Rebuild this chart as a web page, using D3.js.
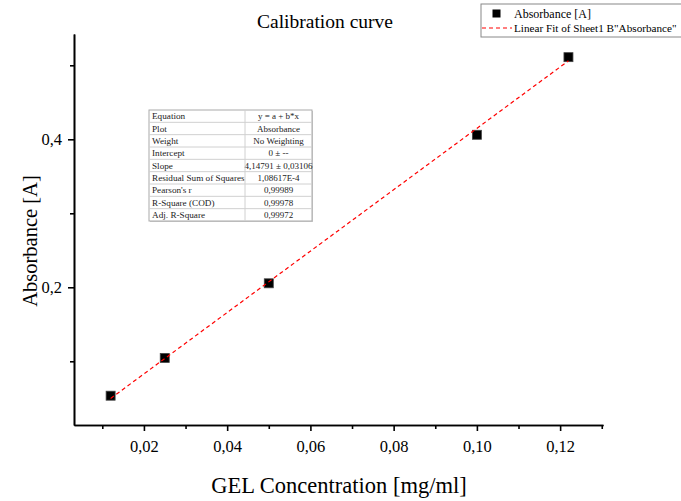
<!DOCTYPE html>
<html>
<head>
<meta charset="utf-8">
<script src="https://cdn.jsdelivr.net/npm/d3@7"></script>
<style>
  html, body { margin: 0; padding: 0; background: #fff; }
  svg { display: block; }
  text { font-family: "Liberation Serif", "DejaVu Serif", serif; }
</style>
</head>
<body>
<svg id="chart" width="681" height="501"></svg>
<script>
// ---- data ----
const concentration = [0.012, 0.025, 0.05, 0.10, 0.122];
const absorbance = [0.0535, 0.1045, 0.2054, 0.4061, 0.511];
const fitSlope = 4.14791;
const fitIntercept = 0;
const fitRange = [0.012, 0.122];
const xMajorTicks = [0.02, 0.04, 0.06, 0.08, 0.10, 0.12];
const xMinorTicks = [0.01, 0.03, 0.05, 0.07, 0.09, 0.11, 0.13];
const yMajorTicks = [0.2, 0.4];
const yMinorTicks = [0.1, 0.3, 0.5];
const tableLabels = ["Equation", "Plot", "Weight", "Intercept", "Slope",
  "Residual Sum of Squares", "Pearson's r", "R-Square (COD)", "Adj. R-Square"];
const tableValues = ["y = a + b*x", "Absorbance", "No Weighting", "0 \u00b1 --",
  "4,14791 \u00b1 0,03106", "1,08617E-4", "0,99989", "0,99978", "0,99972"];
const legendLabels = ["Absorbance [A]", "Linear Fit of Sheet1 B\"Absorbance\""];

const svg = d3.select("#chart");
const x = d3.scaleLinear().domain([0.0032, 0.1303]).range([74, 603]);
const y = d3.scaleLinear().domain([0.0139, 0.5423]).range([425, 34]);
const comma = f => v => d3.format(f)(v).replace(".", ",");

// axes
const xMinor = svg.append("g").attr("transform", "translate(0,425)")
  .call(d3.axisBottom(x).tickValues(xMinorTicks).tickSize(4).tickSizeOuter(0).tickFormat(""));
const xMajor = svg.append("g").attr("transform", "translate(0,425)")
  .call(d3.axisBottom(x).tickValues(xMajorTicks).tickSize(6).tickSizeOuter(0).tickPadding(9).tickFormat(comma(".2f")));
const yMinor = svg.append("g").attr("transform", "translate(74,0)")
  .call(d3.axisLeft(y).tickValues(yMinorTicks).tickSize(4).tickSizeOuter(0).tickFormat(""));
const yMajor = svg.append("g").attr("transform", "translate(74,0)")
  .call(d3.axisLeft(y).tickValues(yMajorTicks).tickSize(6).tickSizeOuter(0).tickPadding(6).tickFormat(comma(".1f")));
[xMinor, xMajor, yMinor, yMajor].forEach(g => {
  g.selectAll("path, line").attr("stroke", "#000").attr("stroke-width", 1.6);
  g.selectAll("text").attr("fill", "#000").style("font-family", "'Liberation Serif', serif").style("font-size", "16.5px");
});

// points
const ms = 9;
svg.append("g").selectAll("rect").data(concentration).join("rect")
  .attr("x", (d) => x(d) - ms / 2)
  .attr("y", (d, i) => y(absorbance[i]) - ms / 2)
  .attr("width", ms).attr("height", ms)
  .attr("fill", "#000").attr("stroke", "#444").attr("stroke-width", 0.8);

// fit line (drawn over the markers)
svg.append("line")
  .attr("x1", x(fitRange[0])).attr("y1", y(fitIntercept + fitSlope * fitRange[0]))
  .attr("x2", x(fitRange[1])).attr("y2", y(fitIntercept + fitSlope * fitRange[1]))
  .attr("stroke", "#ff0000").attr("stroke-width", 1.2).attr("stroke-dasharray", "4,3");

// title and axis labels
svg.append("text").attr("x", 325).attr("y", 28).attr("text-anchor", "middle")
  .style("font-size", "19.5px").text("Calibration curve");
svg.append("text").attr("x", 339).attr("y", 493).attr("text-anchor", "middle")
  .style("font-size", "22.5px").text("GEL Concentration [mg/ml]");
svg.append("text").attr("transform", "translate(37,241) rotate(-90)").attr("text-anchor", "middle")
  .style("font-size", "20.5px").text("Absorbance [A]");

// stats table
const tx0 = 149, tx1 = 245, tx2 = 312, ty0 = 110, rowH = (221 - 110) / tableLabels.length;
const tbl = svg.append("g");
tbl.append("rect").attr("x", tx0 + 1).attr("y", ty0 + 1).attr("width", tx2 - tx0).attr("height", rowH * tableLabels.length)
  .attr("fill", "#ccc");
tbl.append("rect").attr("x", tx0).attr("y", ty0).attr("width", tx2 - tx0).attr("height", rowH * tableLabels.length)
  .attr("fill", "#fff").attr("stroke", "#aaa").attr("stroke-width", 1);
tableLabels.forEach((lab, i) => {
  if (i > 0) tbl.append("line").attr("x1", tx0).attr("x2", tx2).attr("y1", ty0 + i * rowH).attr("y2", ty0 + i * rowH)
    .attr("stroke", "#d0d0d0").attr("stroke-width", 1);
  tbl.append("text").attr("x", tx0 + 3).attr("y", ty0 + i * rowH + rowH / 2 + 3)
    .style("font-size", "9.2px").attr("fill", "#222").text(lab);
  tbl.append("text").attr("x", (tx1 + tx2) / 2).attr("y", ty0 + i * rowH + rowH / 2 + 3).attr("text-anchor", "middle")
    .style("font-size", "9px").attr("fill", "#222").text(tableValues[i]);
});
tbl.append("line").attr("x1", tx1).attr("x2", tx1).attr("y1", ty0).attr("y2", ty0 + rowH * tableLabels.length)
  .attr("stroke", "#d0d0d0").attr("stroke-width", 1);

// legend
const lg = svg.append("g");
lg.append("rect").attr("x", 481).attr("y", 4).attr("width", 230).attr("height", 33)
  .attr("fill", "#fff").attr("stroke", "#888").attr("stroke-width", 1);
lg.append("rect").attr("x", 492.5).attr("y", 9.5).attr("width", 8).attr("height", 8).attr("fill", "#000");
lg.append("line").attr("x1", 482).attr("x2", 512).attr("y1", 28).attr("y2", 28)
  .attr("stroke", "#ff0000").attr("stroke-width", 1.2).attr("stroke-dasharray", "4,3");
lg.append("text").attr("x", 514).attr("y", 17.5).style("font-size", "12px").text(legendLabels[0]);
lg.append("text").attr("x", 514).attr("y", 32).style("font-size", "11.2px").text(legendLabels[1]);
</script>
</body>
</html>
